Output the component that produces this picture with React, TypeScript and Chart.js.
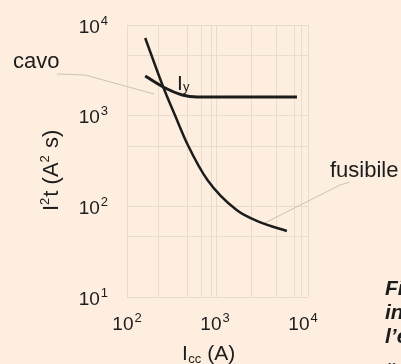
import React, { useEffect, useRef } from "react";
import { Chart, registerables } from "chart.js";

Chart.register(...registerables);

// ---- data ----
const fuseCurrent = [161, 258, 354, 485, 821, 1761, 3226, 6564];
const fuseEnergy = [7190, 2070, 990, 487, 195, 91, 67, 53.5];
const cableCurrent = [161, 258, 425, 631, 1465, 8540];
const cableEnergy = [2740, 2070, 1690, 1607, 1607, 1607];

const xGridValues = [100, 226, 485, 700, 910, 1040, 2600, 5000, 8100, 9700, 11400];
const xLabelValues = [100, 1000, 10000];
const xTickExponents = ["2", "3", "4"];
const yGridValues = [10, 46, 100, 460, 1000, 4600, 10000];
const yLabelValues = [10, 100, 1000, 10000];
const yTickExponents = ["1", "2", "3", "4"];

const FONT = "'Liberation Sans', Arial, Helvetica, sans-serif";
const BG = "#fdeee0";
const GRID = "#eadccd";
const INK = "#1c1c1c";
const LEADER = "#c9c2bb";

const W = 401;
const H = 364;

function mergedTicks(a: number[], b: number[]) {
  return Array.from(new Set([...a, ...b])).sort((p, q) => p - q);
}

const annotations = {
  id: "annotations",
  beforeDatasetsDraw(chart: any) {
    const { ctx, scales } = chart;
    const x = scales.x;
    const y = scales.y;
    ctx.save();
    ctx.strokeStyle = LEADER;
    ctx.lineWidth = 1;
    // cavo leader
    ctx.beginPath();
    ctx.moveTo(57, 74);
    ctx.lineTo(85, 75);
    ctx.lineTo(x.getPixelForValue(203), y.getPixelForValue(1734));
    ctx.stroke();
    // fusibile leader
    ctx.beginPath();
    ctx.moveTo(350, 182);
    ctx.lineTo(340, 185);
    ctx.lineTo(x.getPixelForValue(3680), y.getPixelForValue(65.5));
    ctx.stroke();
    ctx.restore();
  },
  afterDraw(chart: any) {
    const { ctx, scales } = chart;
    const xs = scales.x;
    const ys = scales.y;
    ctx.save();
    ctx.fillStyle = INK;
    ctx.textBaseline = "alphabetic";
    ctx.textAlign = "left";

    // tick labels: 10 with a raised exponent
    const base = `19px ${FONT}`;
    const sup = `13px ${FONT}`;
    xLabelValues.forEach((v, i) => {
      ctx.font = base;
      const w10 = ctx.measureText("10").width;
      ctx.font = sup;
      const we = ctx.measureText(xTickExponents[i]).width;
      const total = w10 + 1 + we;
      const cx = xs.getPixelForValue(v);
      const left = cx - total / 2;
      ctx.font = base;
      ctx.fillText("10", left, 330);
      ctx.font = sup;
      ctx.fillText(xTickExponents[i], left + w10 + 1, 322);
    });
    yLabelValues.forEach((v, i) => {
      const cy = ys.getPixelForValue(v);
      ctx.font = sup;
      const we = ctx.measureText(yTickExponents[i]).width;
      ctx.font = base;
      const w10 = ctx.measureText("10").width;
      const right = 108;
      const left = right - we - 1 - w10;
      ctx.fillText("10", left, cy + 7.5);
      ctx.font = sup;
      ctx.fillText(yTickExponents[i], right - we, cy - 0.5);
    });

    ctx.font = `22px ${FONT}`;
    ctx.fillText("cavo", 13, 68);
    ctx.fillText("fusibile", 330, 177);

    // I_y
    ctx.font = `21px ${FONT}`;
    ctx.fillText("I", 177, 90);
    ctx.font = `13px ${FONT}`;
    ctx.fillText("y", 183, 91);

    // x axis title: I_cc (A)
    ctx.font = `21px ${FONT}`;
    ctx.fillText("I", 182, 360);
    let px = 182 + ctx.measureText("I").width + 0.5;
    ctx.font = `13px ${FONT}`;
    ctx.fillText("cc", px, 363);
    px += ctx.measureText("cc").width;
    ctx.font = `21px ${FONT}`;
    ctx.fillText(" (A)", px, 360);

    // y axis title: I²t (A² s), rotated
    ctx.save();
    ctx.translate(58, 211);
    ctx.rotate(-Math.PI / 2);
    const parts: [string, boolean][] = [
      ["I", false],
      ["2", true],
      ["t (A", false],
      ["2", true],
      [" s)", false],
    ];
    let tx = 0;
    for (const [t, isSup] of parts) {
      ctx.font = isSup ? `13px ${FONT}` : `22px ${FONT}`;
      ctx.fillText(t, tx, isSup ? -9 : 0);
      tx += ctx.measureText(t).width + (isSup ? 1 : 0);
    }
    ctx.restore();

    // cut-off caption at the right
    ctx.font = `italic bold 21px ${FONT}`;
    ctx.fillText("Fi", 385, 295);
    ctx.fillText("in", 385, 319);
    ctx.fillText("l’e", 385, 343);
    ctx.fillText("“", 385, 377);
    ctx.restore();
  },
};

export default function App() {
  const ref = useRef<HTMLCanvasElement | null>(null);

  useEffect(() => {
    if (!ref.current) return;
    const chart = new Chart(ref.current, {
      type: "line",
      data: {
        datasets: [
          {
            label: "cavo",
            data: cableCurrent.map((c, i) => ({ x: c, y: cableEnergy[i] })),
            borderColor: INK,
            borderWidth: 3,
            pointRadius: 0,
            cubicInterpolationMode: "monotone",
            fill: false,
          },
          {
            label: "fusibile",
            data: fuseCurrent.map((c, i) => ({ x: c, y: fuseEnergy[i] })),
            borderColor: INK,
            borderWidth: 2.5,
            pointRadius: 0,
            cubicInterpolationMode: "monotone",
            fill: false,
          },
        ],
      },
      options: {
        animation: false,
        responsive: false,
        events: [],
        layout: { padding: { left: 0, top: 25, right: 93, bottom: 0 } },
        plugins: {
          legend: { display: false },
          tooltip: { enabled: false },
        },
        scales: {
          x: {
            type: "logarithmic",
            min: 100,
            max: 11400,
            afterBuildTicks: (s: any) => {
              s.ticks = mergedTicks(xGridValues, xLabelValues).map((v) => ({ value: v }));
            },
            afterFit: (s: any) => {
              s.height = 67;
            },
            border: { display: false },
            grid: {
              drawTicks: false,
              lineWidth: 1,
              color: (c: any) =>
                c.tick && xGridValues.includes(c.tick.value) ? GRID : "rgba(0,0,0,0)",
            },
            ticks: { display: false, autoSkip: false, maxRotation: 0 },
          },
          y: {
            type: "logarithmic",
            min: 10,
            max: 10000,
            afterBuildTicks: (s: any) => {
              s.ticks = mergedTicks(yGridValues, yLabelValues).map((v) => ({ value: v }));
            },
            afterFit: (s: any) => {
              s.width = 127;
            },
            border: { display: false },
            grid: {
              drawTicks: false,
              lineWidth: 1,
              color: (c: any) =>
                c.tick && yGridValues.includes(c.tick.value) ? GRID : "rgba(0,0,0,0)",
            },
            ticks: { display: false, autoSkip: false },
          },
        },
      },
      plugins: [annotations],
    } as any);
    return () => chart.destroy();
  }, []);

  return (
    <div
      style={{
        position: "absolute",
        left: 0,
        top: 0,
        width: W,
        height: H,
        background: BG,
        overflow: "hidden",
      }}
    >
      <canvas ref={ref} width={W} height={H} style={{ display: "block", width: W, height: H }} />
    </div>
  );
}
